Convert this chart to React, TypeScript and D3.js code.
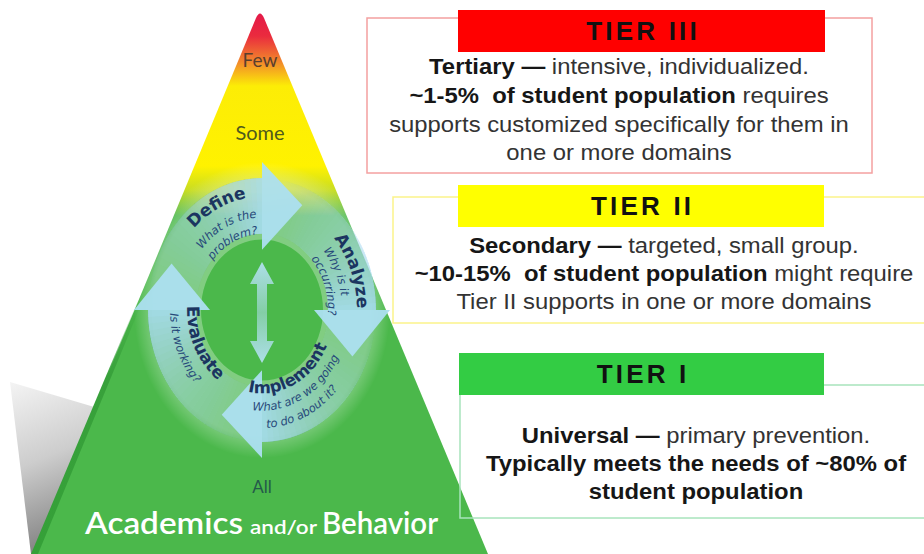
import React from "react";
import * as d3 from "d3";

const W = 924;
const H = 554;

// ---------- data (text content) ----------
const levelLabels = ["Few", "Some", "All"];
const baseTitle = ["Academics", "and/or", "Behavior"];
const steps = ["Define", "Analyze", "Implement", "Evaluate"];
const stepQuestions = [
  ["What is the", "problem?"],
  ["Why is it", "occurring?"],
  ["What are we going", "to do about it?"],
  ["Is it working?"],
];
const tierNames = ["TIER III", "TIER II", "TIER I"];
type Seg = { t: string; b: boolean };
const tier3Lines: Seg[][] = [
  [{ t: "Tertiary —", b: true }, { t: " intensive, individualized.", b: false }],
  [{ t: "~1-5%  of student population", b: true }, { t: " requires", b: false }],
  [{ t: "supports customized specifically for them in", b: false }],
  [{ t: "one or more domains", b: false }],
];
const tier2Lines: Seg[][] = [
  [{ t: "Secondary —", b: true }, { t: " targeted, small group.", b: false }],
  [{ t: "~10-15%  of student population", b: true }, { t: " might require", b: false }],
  [{ t: "Tier II supports in one or more domains", b: false }],
];
const tier1Lines: Seg[][] = [
  [{ t: "Universal —", b: true }, { t: " primary prevention.", b: false }],
  [{ t: "Typically meets the needs of ~80% of", b: true }],
  [{ t: "student population", b: true }],
];

// ---------- layout ----------
const apex: [number, number] = [260, 10];
const baseL: [number, number] = [33, 554];
const baseR: [number, number] = [488, 554];
const edgeX = d3.scaleLinear().domain([apex[1], baseL[1]]).range([apex[0], baseL[0]]);

const cx = 262;
const cy = 310;
const k = 1.157; // vertical stretch of the cycle
const deg = Math.PI / 180;
const pt = (r: number, a: number): [number, number] => [r * Math.sin(a * deg), -r * Math.cos(a * deg)];
const ept = (r: number, a: number): [number, number] => [r * Math.sin(a * deg), -r * k * Math.cos(a * deg)];

function arcTextPath(r: number, ac: number, cw: boolean, span = 70) {
  const a1 = cw ? ac - span : ac + span;
  const a2 = cw ? ac + span : ac - span;
  const p1 = ept(r, a1);
  const p2 = ept(r, a2);
  return `M${p1[0]},${p1[1]} A${r},${r * k} 0 0 ${cw ? 1 : 0} ${p2[0]},${p2[1]}`;
}

const headAngles = [0, 90, 180, 270];
const textCfg = [
  { cw: true, title: { a: -24, r: 98 }, subs: [{ a: -24, r: 80 }, { a: -24, r: 65.5 }] },
  { cw: true, title: { a: 67, r: 95 }, subs: [{ a: 63, r: 80 }, { a: 69, r: 66 }] },
  { cw: false, title: { a: 155, r: 72 }, subs: [{ a: 154, r: 87 }, { a: 157, r: 102 }] },
  { cw: false, title: { a: 242, r: 75 }, subs: [{ a: 245, r: 92 }] },
];

const boxFont = "'Liberation Sans', Arial, Helvetica, sans-serif";
const cycleFont = "'DejaVu Sans', Verdana, sans-serif";

function TextLines({ lines, cxText, ys }: { lines: Seg[][]; cxText: number; ys: number[] }) {
  return (
    <g>
      {lines.map((segs, i) => (
        <text
          key={i}
          x={cxText}
          y={ys[i]}
          textAnchor="middle"
          fontFamily={boxFont}
          fontSize={22.5}
          transform={`translate(${cxText},0) scale(1.06,1) translate(${-cxText},0)`}
          style={{ whiteSpace: "pre" }}
        >
          {segs.map((s, j) => (
            <tspan key={j} fontWeight={s.b ? 700 : 400} fill={s.b ? "#161616" : "#333"}>
              {s.t}
            </tspan>
          ))}
        </text>
      ))}
    </g>
  );
}

function Header({ x0, x1, y0, y1, fill, label }: any) {
  const ls = 3.2;
  return (
    <g>
      <rect x={x0} y={y0} width={x1 - x0} height={y1 - y0} fill={fill} />
      <text
        x={(x0 + x1) / 2 + ls / 2}
        y={(y0 + y1) / 2 + 9}
        textAnchor="middle"
        fontFamily={boxFont}
        fontWeight={700}
        fontSize={26}
        letterSpacing={ls}
        fill="#111"
      >
        {label}
      </text>
    </g>
  );
}

export default function App() {
  const tri = d3.path();
  tri.moveTo(apex[0] - 4, apex[1] + 8);
  tri.quadraticCurveTo(apex[0], apex[1] - 1, apex[0] + 4, apex[1] + 8);
  tri.lineTo(baseR[0], baseR[1]);
  tri.lineTo(baseL[0], baseL[1]);
  tri.closePath();

  const line = d3.line();
  const stripe = line([
    [edgeX(300) - 1, 300],
    [edgeX(554) - 2, 554],
    [edgeX(554) + 5, 554],
    [edgeX(300) + 4, 300],
  ]) as string;
  const shadow = line([
    [10, 382],
    [edgeX(407), 407],
    [edgeX(554) - 1, 554],
    [31, 554],
  ]) as string;

  const ring = d3.arc<any>();
  const N = 30;
  const bodies: { d: string; o: number }[] = [];
  headAngles.forEach((h) => {
    let prev = 0;
    for (let j = 0; j < N; j++) {
      const t = (j + 1) / N;
      const target = 0.88 * Math.pow(t, 1.4);
      const o = 1 - (1 - target) / (1 - prev);
      prev = target;
      const a0 = (h - 90 + (90 * j) / N) * deg;
      bodies.push({
        d: ring({ innerRadius: 66, outerRadius: 114, startAngle: a0, endAngle: h * deg }) as string,
        o,
      });
    }
  });
  const heads = headAngles.map((h) => line([pt(52, h), pt(128, h), pt(99, h + 24)]) as string);
  const band = ring({ innerRadius: 61, outerRadius: 128, startAngle: 0, endAngle: 2 * Math.PI }) as string;

  // center double arrow
  const dbl = line([
    [cx, 262],
    [cx + 12, 284],
    [cx + 5, 284],
    [cx + 5, 341],
    [cx + 12, 341],
    [cx, 363],
    [cx - 12, 341],
    [cx - 5, 341],
    [cx - 5, 284],
    [cx - 12, 284],
  ]) as string;

  return (
    <svg width={W} height={H} style={{ position: "absolute", left: 0, top: 0, background: "#fff" }}>
      <defs>
        <linearGradient id="pyr" gradientUnits="userSpaceOnUse" x1="0" y1="10" x2="0" y2="554">
          {[
            [10, "#e3174b"],
            [36, "#ea2b3e"],
            [62, "#f2892b"],
            [86, "#fced06"],
            [166, "#fff200"],
            [190, "#c9dd22"],
            [216, "#4bb84b"],
            [554, "#4bb84b"],
          ].map(([y, c]: any, i) => (
            <stop key={i} offset={(y - 10) / 544} stopColor={c} />
          ))}
        </linearGradient>
        <linearGradient id="shadowG" x1="0" y1="0" x2="0.2" y2="1">
          <stop offset="0" stopColor="#f4f4f4" />
          <stop offset="0.5" stopColor="#cdcdcd" />
          <stop offset="1" stopColor="#858585" />
        </linearGradient>
        <linearGradient id="stripeG" x1="0" y1="0" x2="0" y2="1">
          <stop offset="0" stopColor="#38a13b" stopOpacity="0" />
          <stop offset="0.3" stopColor="#38a13b" stopOpacity="1" />
          <stop offset="1" stopColor="#35a038" stopOpacity="1" />
        </linearGradient>
        <radialGradient id="bandG" gradientUnits="userSpaceOnUse" cx="0" cy="0" r="128">
          <stop offset="0.47" stopColor="#ffffff" stopOpacity="0.3" />
          <stop offset="0.85" stopColor="#ffffff" stopOpacity="0.3" />
          <stop offset="1" stopColor="#ffffff" stopOpacity="0" />
        </radialGradient>
        <linearGradient id="dblG" x1="0" y1="0" x2="0" y2="1">
          <stop offset="0" stopColor="#b2e0f0" stopOpacity="0.95" />
          <stop offset="0.5" stopColor="#b2e0f0" stopOpacity="0.55" />
          <stop offset="1" stopColor="#b2e0f0" stopOpacity="0.95" />
        </linearGradient>
        {textCfg.map((c, i) => (
          <g key={i}>
            <path id={`tp-t-${i}`} d={arcTextPath(c.title.r, c.title.a, c.cw)} />
            {c.subs.map((s, j) => (
              <path key={j} id={`tp-s-${i}-${j}`} d={arcTextPath(s.r, s.a, c.cw)} />
            ))}
          </g>
        ))}
      </defs>

      {/* shadow + pyramid */}
      <path d={shadow} fill="url(#shadowG)" />
      <path d={tri.toString()} fill="url(#pyr)" />
      <path d={stripe} fill="url(#stripeG)" />

      {/* level labels */}
      <text x={260} y={67} textAnchor="middle" fontFamily="Lato, sans-serif" fontSize={19} fill="#5a3f2e">
        {levelLabels[0]}
      </text>
      <text x={260} y={140} textAnchor="middle" fontFamily="Lato, sans-serif" fontSize={20} fill="#4e5a1c">
        {levelLabels[1]}
      </text>
      <text x={262} y={493} textAnchor="middle" fontFamily="Lato, sans-serif" fontSize={17} fill="#24594a">
        {levelLabels[2]}
      </text>

      {/* cycle */}
      <g transform={`translate(${cx},${cy}) scale(1,${k})`}>
        <path d={band} fill="url(#bandG)" />
        {bodies.map((b, i) => (
          <path key={i} d={b.d} fill="#a9def2" fillOpacity={b.o} />
        ))}
        {heads.map((d, i) => (
          <path key={i} d={d} fill="#acdff0" fillOpacity={0.95} />
        ))}
      </g>
      <path d={dbl} fill="url(#dblG)" />
      <g transform={`translate(${cx},${cy})`} fontFamily={cycleFont}>
        {textCfg.map((c, i) => (
          <g key={i}>
            <text fontSize={i === 2 ? 16.5 : 17} fontWeight={700} fill="#1b3560">
              <textPath href={`#tp-t-${i}`} startOffset="50%" textAnchor="middle">
                {steps[i]}
              </textPath>
            </text>
            {c.subs.map((s, j) => (
              <text key={j} fontSize={11.5} fontStyle="italic" fill="#27497a">
                <textPath href={`#tp-s-${i}-${j}`} startOffset="50%" textAnchor="middle">
                  {stepQuestions[i][j]}
                </textPath>
              </text>
            ))}
          </g>
        ))}
      </g>

      {/* base title */}
      <g fontFamily="Lato, sans-serif" fill="#ffffff" fontWeight={600}>
        <text x={85} y={534} fontSize={30} textLength={158} lengthAdjust="spacingAndGlyphs">
          {baseTitle[0]}
        </text>
        <text x={250} y={534} fontSize={20} textLength={67} lengthAdjust="spacingAndGlyphs">
          {baseTitle[1]}
        </text>
        <text x={322} y={534} fontSize={30} textLength={116} lengthAdjust="spacingAndGlyphs">
          {baseTitle[2]}
        </text>
      </g>

      {/* Tier III */}
      <rect x={367} y={18} width={872 - 367} height={173 - 18} fill="none" stroke="#f4a0a0" strokeWidth={1.5} />
      <Header x0={458} x1={825} y0={10} y1={52} fill="#ff0000" label={tierNames[0]} />
      <TextLines lines={tier3Lines} cxText={619} ys={[74, 103, 132, 160]} />

      {/* Tier II */}
      <rect x={393} y={197} width={W + 10 - 393} height={323 - 197} fill="none" stroke="#fbf38a" strokeWidth={1.5} />
      <Header x0={458} x1={824} y0={185} y1={227} fill="#ffff00" label={tierNames[1]} />
      <TextLines lines={tier2Lines} cxText={664} ys={[253, 281, 309]} />

      {/* Tier I */}
      <rect x={460} y={385} width={W + 10 - 460} height={518 - 385} fill="none" stroke="#a8e4bc" strokeWidth={1.5} />
      <Header x0={459} x1={824} y0={353} y1={395} fill="#33cc44" label={tierNames[2]} />
      <TextLines lines={tier1Lines} cxText={696} ys={[443, 471, 499]} />
    </svg>
  );
}
